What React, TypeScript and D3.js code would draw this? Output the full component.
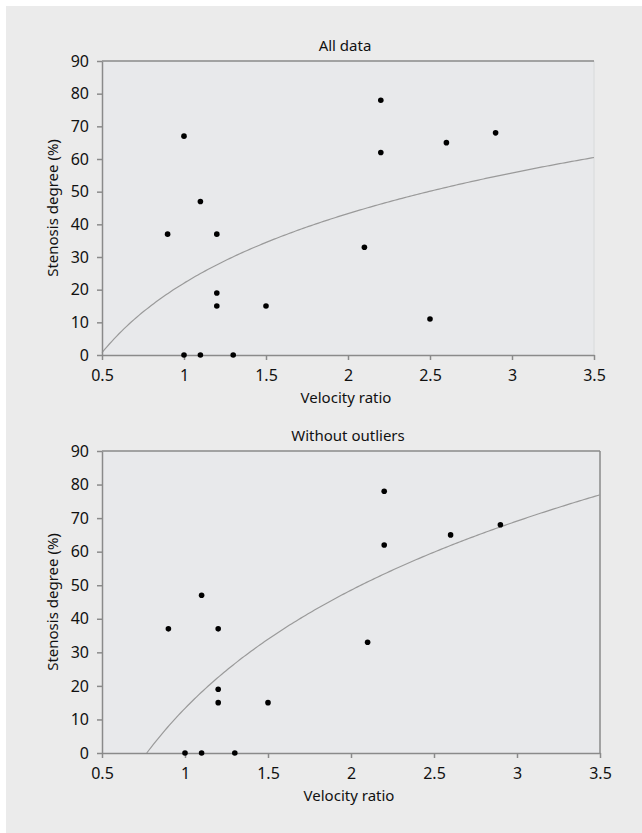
import { useEffect, useRef } from "react";
import * as d3 from "d3";

// points (velocity ratio, stenosis degree %)
const allX = [0.9, 1.0, 1.0, 1.1, 1.1, 1.2, 1.2, 1.2, 1.3, 1.5, 2.1, 2.2, 2.2, 2.5, 2.6, 2.9];
const allY = [37, 67, 0, 47, 0, 37, 19, 15, 0, 15, 33, 78, 62, 11, 65, 68];

const cleanX = [0.9, 1.0, 1.1, 1.1, 1.2, 1.2, 1.2, 1.3, 1.5, 2.1, 2.2, 2.2, 2.6, 2.9];
const cleanY = [37, 0, 47, 0, 37, 19, 15, 0, 15, 33, 78, 62, 65, 68];

// logarithmic trend lines y = a + b ln(x), estimated from the drawn curves
const allFit = { a: 22.0, b: 30.7 };
const cleanFit = { a: 13.3, b: 50.8 };

const xTicks = [0.5, 1, 1.5, 2, 2.5, 3, 3.5];
const yTicks = [0, 10, 20, 30, 40, 50, 60, 70, 80, 90];

const titles = ["All data", "Without outliers"];
const xLabel = "Velocity ratio";
const yLabel = "Stenosis degree (%)";

const FONT = "'Noto Sans', sans-serif";
const AXIS = "#8a8a8a";

const panels = [
  { xs: allX, ys: allY, fit: allFit, title: titles[0], left: 102, right: 594, top: 61, bottom: 355, rightBorder: "#dedfe1" },
  { xs: cleanX, ys: cleanY, fit: cleanFit, title: titles[1], left: 102, right: 600, top: 451, bottom: 753, rightBorder: AXIS },
];

const App = () => {
  const ref = useRef<SVGSVGElement>(null);

  useEffect(() => {
    const svg = d3.select(ref.current);
    svg.selectAll("*").remove();

    svg.append("rect")
      .attr("x", 6).attr("y", 6)
      .attr("width", 636).attr("height", 827)
      .attr("fill", "#ebebeb");

    panels.forEach((p) => {
      const x = d3.scaleLinear().domain([0.5, 3.5]).range([p.left, p.right]);
      const y = d3.scaleLinear().domain([0, 90]).range([p.bottom, p.top]);
      const g = svg.append("g");

      g.append("rect")
        .attr("x", p.left).attr("y", p.top)
        .attr("width", p.right - p.left).attr("height", p.bottom - p.top)
        .attr("fill", "#e8e9eb");

      // right + top borders
      g.append("line")
        .attr("x1", p.right).attr("x2", p.right)
        .attr("y1", p.top).attr("y2", p.bottom)
        .attr("stroke", p.rightBorder).attr("stroke-width", 1.5);
      g.append("line")
        .attr("x1", p.left).attr("x2", p.right)
        .attr("y1", p.top).attr("y2", p.top)
        .attr("stroke", AXIS).attr("stroke-width", 1.5);

      // trend curve
      const x0 = Math.max(0.5, Math.exp(-p.fit.a / p.fit.b));
      const curveXs = d3.range(0, 201).map((i) => x0 + ((3.5 - x0) * i) / 200);
      const line = d3.line<number>()
        .x((d) => x(d))
        .y((d) => y(p.fit.a + p.fit.b * Math.log(d)));
      g.append("path")
        .attr("d", line(curveXs))
        .attr("fill", "none")
        .attr("stroke", "#9a9a9a")
        .attr("stroke-width", 1.2);

      const xAxis = g.append("g")
        .attr("transform", `translate(0,${p.bottom})`)
        .call(d3.axisBottom(x).tickValues(xTicks).tickSize(5).tickPadding(10).tickSizeOuter(0).tickFormat((d) => String(d)));
      const yAxis = g.append("g")
        .attr("transform", `translate(${p.left},0)`)
        .call(d3.axisLeft(y).tickValues(yTicks).tickSize(5).tickPadding(8).tickSizeOuter(0));

      [xAxis, yAxis].forEach((a) => {
        a.select(".domain").attr("stroke", AXIS).attr("stroke-width", 1.5);
        a.selectAll(".tick line").attr("stroke", AXIS).attr("stroke-width", 1.5);
        a.selectAll(".tick text")
          .attr("fill", "#111")
          .style("font-family", FONT)
          .style("font-size", "16px");
      });

      g.selectAll(".dot")
        .data(p.xs.map((v, i) => [v, p.ys[i]]))
        .enter()
        .append("circle")
        .attr("cx", (d) => x(d[0]))
        .attr("cy", (d) => y(d[1]))
        .attr("r", 2.8)
        .attr("fill", "#000");

      const cx = (p.left + p.right) / 2;
      g.append("text")
        .attr("x", cx - 3).attr("y", p.top - 10)
        .attr("text-anchor", "middle")
        .style("font-family", FONT).style("font-size", "15px")
        .attr("fill", "#111")
        .text(p.title);
      g.append("text")
        .attr("x", cx - 2).attr("y", p.bottom + 48)
        .attr("text-anchor", "middle")
        .style("font-family", FONT).style("font-size", "15px")
        .attr("fill", "#111")
        .text(xLabel);
      g.append("text")
        .attr("transform", `translate(58,${(p.top + p.bottom) / 2}) rotate(-90)`)
        .attr("text-anchor", "middle")
        .style("font-family", FONT).style("font-size", "15px")
        .attr("fill", "#111")
        .text(yLabel);
    });
  }, []);

  return (
    <svg
      ref={ref}
      width={642}
      height={833}
      style={{ position: "absolute", left: 0, top: 0, background: "#fff" }}
    />
  );
};

export default App;
